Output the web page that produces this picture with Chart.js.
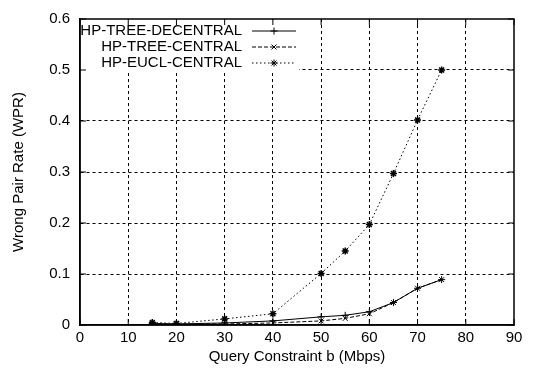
<!DOCTYPE html>
<html>
<head>
<meta charset="utf-8">
<script src="https://cdn.jsdelivr.net/npm/chart.js@4"></script>
<style>
  html, body { margin: 0; padding: 0; background: #fff; }
  #wrap { width: 533px; height: 381px; }
</style>
</head>
<body>
<div id="wrap"><canvas id="wpr_chart"></canvas></div>
<script>
// query constraint b (Mbps)
let constraintValues = [15, 20, 30, 40, 50, 55, 60, 65, 70, 75];
let seriesNames = ['HP-TREE-DECENTRAL', 'HP-TREE-CENTRAL', 'HP-EUCL-CENTRAL'];
let treeDecentral = [0.003, 0.002, 0.004, 0.008, 0.016, 0.019, 0.026, 0.044, 0.072, 0.089];
let treeCentral = [0.002, 0.002, 0.002, 0.004, 0.008, 0.013, 0.022, 0.044, 0.072, 0.089];
let euclCentral = [0.005, 0.003, 0.012, 0.022, 0.101, 0.145, 0.197, 0.297, 0.402, 0.5];
let xTicks = [0, 10, 20, 30, 40, 50, 60, 70, 80, 90];
let yTicks = [0, 0.1, 0.2, 0.3, 0.4, 0.5, 0.6];

const fontFamily = '"Liberation Sans", Arial, sans-serif';
const fontSize = 15;

function toPoints(values) {
    return constraintValues.map((b, i) => ({ x: b, y: values[i] }));
}

function lineDataset(label, values, pointStyle, dash, pointWidth) {
    return {
        label: label,
        data: toPoints(values),
        borderColor: '#000',
        backgroundColor: '#000',
        borderWidth: 1,
        borderDash: dash,
        pointStyle: pointStyle,
        pointRadius: 3.5,
        pointBorderWidth: pointWidth,
        pointBorderColor: '#000',
        pointBackgroundColor: '#000',
        tension: 0
    };
}

/**
 * gnuplot style key: text right aligned, line sample with the point in its middle
 */
const keyPlugin = {
    id: 'gnuplotKey',
    afterDatasetsDraw(chart) {
        const ctx = chart.ctx;
        const area = chart.chartArea;
        ctx.save();
        ctx.fillStyle = '#fff';
        ctx.fillRect(area.left + 1, area.top + 1, 218, 52);
        ctx.font = fontSize + 'px ' + fontFamily;
        ctx.textAlign = 'right';
        ctx.textBaseline = 'middle';
        chart.data.datasets.forEach((ds, i) => {
            const y = area.top + 12 + i * 16;
            ctx.fillStyle = '#000';
            ctx.fillText(ds.label, area.left + 162, y);
            ctx.strokeStyle = '#000';
            ctx.lineWidth = 1;
            ctx.setLineDash(ds.borderDash);
            ctx.beginPath();
            ctx.moveTo(area.left + 172, y);
            ctx.lineTo(area.left + 216, y);
            ctx.stroke();
            ctx.setLineDash([]);
            Chart.helpers.drawPoint(ctx, {
                pointStyle: ds.pointStyle,
                radius: 3.5,
                borderWidth: ds.pointBorderWidth
            }, area.left + 194, y);
        });
        ctx.restore();
    }
};

/**
 * solid frame round the plot area with short inward ticks on all four sides
 */
const framePlugin = {
    id: 'plotFrame',
    afterDraw(chart) {
        const ctx = chart.ctx;
        const a = chart.chartArea;
        const xs = chart.scales.x;
        const ys = chart.scales.y;
        const len = 6;
        ctx.save();
        ctx.strokeStyle = '#000';
        ctx.lineWidth = 1;
        ctx.setLineDash([]);
        ctx.beginPath();
        xTicks.forEach(v => {
            const px = xs.getPixelForValue(v);
            ctx.moveTo(px, a.bottom);
            ctx.lineTo(px, a.bottom - len);
            ctx.moveTo(px, a.top);
            ctx.lineTo(px, a.top + len);
        });
        yTicks.forEach(v => {
            const py = ys.getPixelForValue(v);
            ctx.moveTo(a.left, py);
            ctx.lineTo(a.left + len, py);
            ctx.moveTo(a.right, py);
            ctx.lineTo(a.right - len, py);
        });
        ctx.stroke();
        ctx.lineWidth = 1.5;
        ctx.strokeRect(a.left, a.top, a.right - a.left, a.bottom - a.top);
        ctx.restore();
    }
};

// hide grid lines that sit on the frame
function innerGridColor(edges) {
    return (c) => (c.tick && edges.includes(c.tick.value)) ? 'rgba(0,0,0,0)' : '#000';
}

const tickFont = { size: fontSize, family: fontFamily };

const wprChartConfig = {
    type: 'line',
    data: {
        datasets: [
            lineDataset(seriesNames[0], treeDecentral, 'cross', [], 1),
            lineDataset(seriesNames[1], treeCentral, 'crossRot', [4, 2], 1),
            lineDataset(seriesNames[2], euclCentral, 'star', [1.5, 2.5], 1.5)
        ]
    },
    options: {
        responsive: true,
        maintainAspectRatio: false,
        animation: false,
        layout: { padding: { left: 0, top: 5, right: 19, bottom: 0 } },
        scales: {
            x: {
                type: 'linear',
                min: 0,
                max: 90,
                afterBuildTicks: (scale) => { scale.ticks = xTicks.map(v => ({ value: v })); },
                afterFit: (scale) => { scale.height = 56; },
                grid: { color: innerGridColor([0, 90]), lineWidth: 1, drawTicks: false, tickLength: 0 },
                border: { display: true, color: '#000', width: 1.5, dash: [3, 3] },
                ticks: { color: '#000', font: tickFont, padding: 4, maxRotation: 0 },
                title: {
                    display: true,
                    text: 'Query Constraint b (Mbps)',
                    color: '#000',
                    font: tickFont,
                    padding: { top: 0, bottom: 15 }
                }
            },
            y: {
                type: 'linear',
                min: 0,
                max: 0.6,
                afterBuildTicks: (scale) => { scale.ticks = yTicks.map(v => ({ value: v })); },
                afterFit: (scale) => { scale.width = 80; },
                grid: { color: innerGridColor([0, 0.6]), lineWidth: 1, drawTicks: false, tickLength: 0 },
                border: { display: true, color: '#000', width: 1.5, dash: [3, 3] },
                ticks: {
                    color: '#000',
                    font: tickFont,
                    padding: 10,
                    callback: (v) => String(Math.round(v * 10) / 10)
                },
                title: {
                    display: true,
                    text: 'Wrong Pair Rate (WPR)',
                    color: '#000',
                    font: tickFont,
                    padding: { top: 10, bottom: 0 }
                }
            }
        },
        plugins: {
            legend: { display: false },
            tooltip: { enabled: false }
        }
    },
    plugins: [keyPlugin, framePlugin]
};

const wprChart = new Chart(document.getElementById('wpr_chart'), wprChartConfig);
</script>
</body>
</html>
